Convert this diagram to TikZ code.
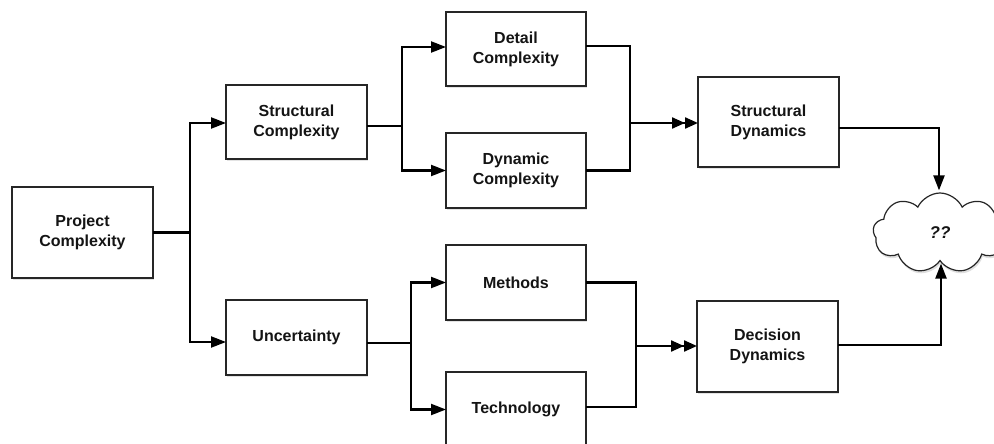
\documentclass[tikz,border=0pt]{standalone}
\usepackage{fontspec}
\setmainfont{Liberation Sans}
\usetikzlibrary{arrows.meta,shapes.symbols,shadows,calc}
\begin{document}
\begin{tikzpicture}[x=1pt,y=-1pt,
  box/.style={draw=black!85, line width=1.3pt, fill=white, align=center,
    font=\fontsize{16}{20}\selectfont\bfseries, text=black!92,
    inner sep=0pt, outer sep=0pt,
    drop shadow={opacity=0.22, shadow xshift=0.8pt, shadow yshift=-1.6pt}},
  wire/.style={line width=2.2pt, black},
  arr/.style={wire, -{Triangle[length=15pt,width=11pt]}},
  darr/.style={wire, -{Triangle[length=13pt,width=11pt]Triangle[length=13pt,width=11pt]}},
]
\useasboundingbox (0,0) rectangle (994,444);

% boxes
\node[box, minimum width=141pt, minimum height=91pt] (pc) at (82.5,232.5) {Project\\Complexity};
\node[box, minimum width=141pt, minimum height=74pt] (sc) at (296.5,122) {Structural\\Complexity};
\node[box, minimum width=141pt, minimum height=75pt] (un) at (296.5,337.5) {Uncertainty};
\node[box, minimum width=140pt, minimum height=74pt] (dc) at (516,49) {Detail\\Complexity};
\node[box, minimum width=140pt, minimum height=75pt] (dy) at (516,170.5) {Dynamic\\Complexity};
\node[box, minimum width=140pt, minimum height=75pt] (me) at (516,282.5) {Methods};
\node[box, minimum width=140pt, minimum height=75pt] (te) at (516,409.5) {Technology};
\node[box, minimum width=141pt, minimum height=90pt] (sd) at (768.5,122) {Structural\\Dynamics};
\node[box, minimum width=141pt, minimum height=91pt] (dd) at (767.5,346.5) {Decision\\Dynamics};

% cloud
\node[cloud, cloud puffs=9, cloud puff arc=130, cloud ignores aspect,
  draw=black!85, line width=1.2pt, fill=white,
  minimum width=134pt, minimum height=80pt, inner sep=0pt,
  drop shadow={opacity=0.25, shadow xshift=1pt, shadow yshift=-2.5pt},
  font=\fontsize{17}{20}\selectfont\bfseries\itshape, text=black!92] (cl) at (940,233) {??};

% junction points
\coordinate (j1) at (190,232.5);
\coordinate (j2) at (402,126);
\coordinate (j3) at (411,343);
\coordinate (j4) at (630,123);
\coordinate (j5) at (636,346);

% project complexity fan-out
\draw[wire] (pc.east) -- (j1);
\draw[arr] (j1) |- ($(sc.west)+(0,1)$);
\draw[arr] (j1) |- ($(un.west)+(0,4.5)$);

% structural complexity fan-out
\draw[wire] ($(sc.east)+(0,4)$) -- (j2);
\draw[arr] (j2) |- ($(dc.west)+(0,-2)$);
\draw[arr] (j2) |- (dy.west);

% uncertainty fan-out
\draw[wire] ($(un.east)+(0,5.5)$) -- (j3);
\draw[arr] (j3) |- (me.west);
\draw[arr] (j3) |- (te.west);

% merge into structural dynamics
\draw[wire] ($(dc.east)+(0,-3)$) -| (j4 |- 0,170.5) -- (dy.east);
\draw[darr] (j4) -- ($(sd.west)+(0,1)$);

% merge into decision dynamics
\draw[wire] (me.east) -| (j5 |- 0,407) -- ($(te.east)+(0,-2.5)$);
\draw[darr] (j5) -- ($(dd.west)+(0,-0.5)$);

% into the cloud
\draw[arr] ($(sd.east)+(0,6)$) -| ($(cl.north)+(-1,-2)$);
\draw[arr] ($(dd.east)+(0,-1.5)$) -| ($(cl.south)+(1,2)$);
\end{tikzpicture}
\end{document}
